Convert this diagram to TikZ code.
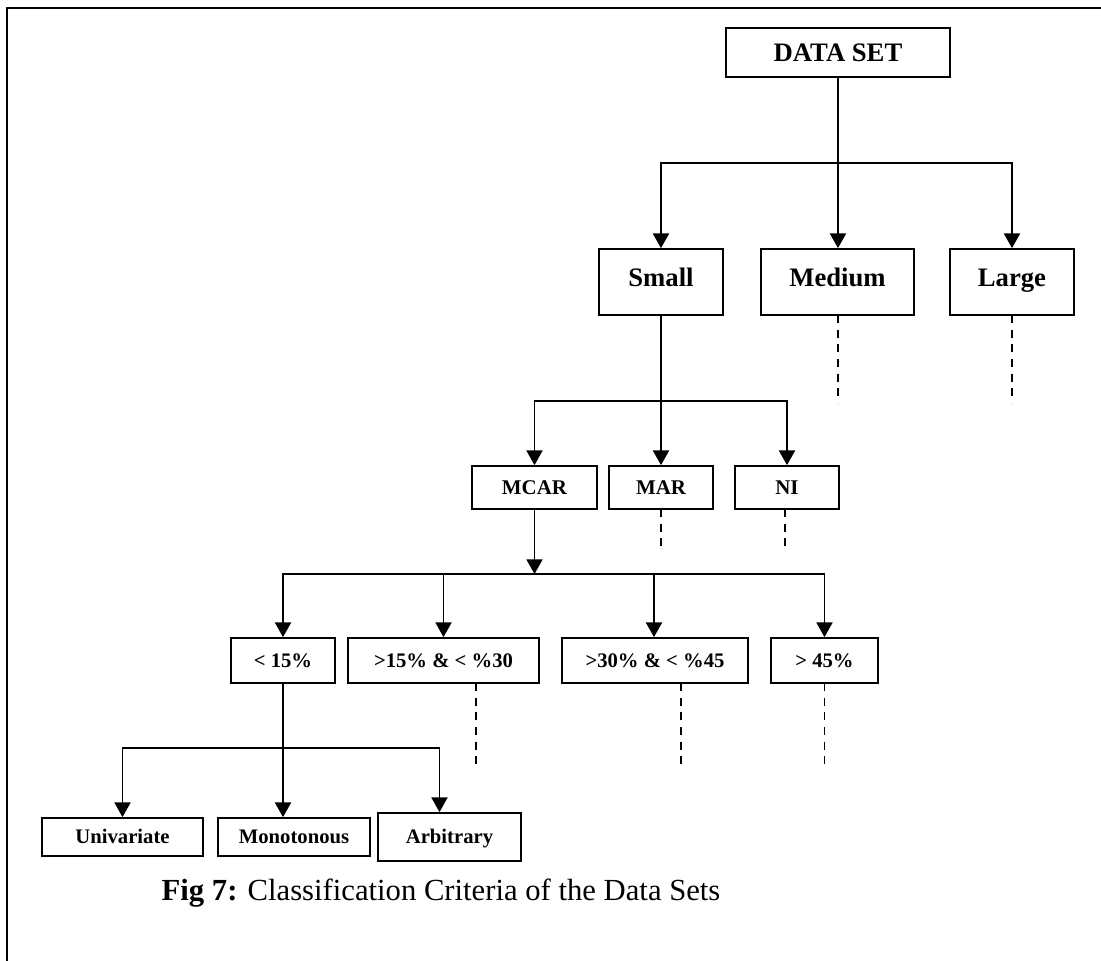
\documentclass[tikz,border=0pt]{standalone}
\usepackage{fontspec}
\setmainfont{Liberation Serif}
\usetikzlibrary{arrows.meta}

\tikzset{
  box/.style={draw, line width=1.3pt, inner sep=0pt, font=\bfseries},
  conn/.style={line width=1.3pt},
  arr/.style={line width=1.3pt, -{Triangle[width=12pt,length=11pt]}},
  dsh/.style={line width=1.1pt, dash pattern=on 6pt off 5pt},
  lvA/.style={font=\fontsize{20}{24}\selectfont\bfseries, text height=13.2pt, text depth=0pt},
  lvB/.style={font=\fontsize{15.7}{19}\selectfont\bfseries, text height=10.4pt, text depth=0pt},
  lvC/.style={font=\fontsize{15.5}{19}\selectfont\bfseries, text height=10.2pt, text depth=0pt},
  lvD/.style={font=\fontsize{15.5}{19}\selectfont\bfseries, text height=10.2pt, text depth=0pt},
}

\begin{document}
\begin{tikzpicture}[x=0.75pt,y=-0.75pt]
\useasboundingbox (0,0) rectangle (1101,961);

% page frame (top and left rules)
\coordinate (fa) at (1101,8);
\coordinate (fb) at (7,8);
\coordinate (fc) at (7,961);
\draw[line width=1.6pt] (fa) -- (fb) -- (fc);

% level 1
\node[box,lvA,minimum width=224*0.75pt,minimum height=49*0.75pt] (ds) at (838,52.5) {DATA SET};

% level 2
\node[box,lvA,text depth=7pt,minimum width=124*0.75pt,minimum height=66*0.75pt] (small) at (661,282) {Small};
\node[box,lvA,text depth=7pt,minimum width=153*0.75pt,minimum height=66*0.75pt] (medium) at (837.5,282) {Medium};
\node[box,lvA,text depth=7pt,minimum width=124*0.75pt,minimum height=66*0.75pt] (large) at (1012,282) {Large};

% level 3
\node[box,lvB,minimum width=125*0.75pt,minimum height=43*0.75pt] (mcar) at (534.5,487.5) {MCAR};
\node[box,lvB,minimum width=104*0.75pt,minimum height=43*0.75pt] (mar) at (661,487.5) {MAR};
\node[box,lvB,minimum width=104*0.75pt,minimum height=43*0.75pt] (ni) at (787,487.5) {NI};

% level 4
\node[box,lvC,minimum width=104*0.75pt,minimum height=45*0.75pt] (lt15) at (283,660.5) {< 15\%};
\node[box,lvC,minimum width=191*0.75pt,minimum height=45*0.75pt] (b1530) at (443.5,660.5) {>15\% \& < \%30};
\node[box,lvC,minimum width=186*0.75pt,minimum height=45*0.75pt] (b3045) at (655,660.5) {>30\% \& < \%45};
\node[box,lvC,minimum width=107*0.75pt,minimum height=45*0.75pt] (gt45) at (824.5,660.5) {> 45\%};

% level 5
\node[box,lvD,minimum width=161*0.75pt,minimum height=38*0.75pt] (univ) at (122.5,837) {Univariate};
\node[box,lvD,minimum width=152*0.75pt,minimum height=38*0.75pt] (mono) at (294,837) {Monotonous};
\node[box,lvD,minimum width=143*0.75pt,minimum height=48*0.75pt] (arb) at (449.5,837) {Arbitrary};

% caption
\node[font=\fontsize{23}{27}\selectfont] (cap) at (441,893) {\textbf{Fig 7:} Classification Criteria of the Data Sets};

% branch points
\coordinate (j1) at (838,163);
\coordinate (j2) at (661,401);
\coordinate (j3) at (654,574);
\coordinate (j4) at (283,748);

% data set -> sizes
\draw[conn] (ds.south) -- (j1);
\draw[arr] (j1) -| (small.north);
\draw[arr] (j1) -- (medium.north -| j1);
\draw[arr] (j1) -| (large.north);

% small -> mechanisms
\draw[conn] (small.south) -- (j2);
\draw[arr] (j2) -| (mcar.north);
\draw[arr] (j2) -- (mar.north);
\draw[arr] (j2) -| (ni.north);

% mcar -> missing rates
\coordinate (m3) at (mcar.south |- j3);
\draw[arr] (mcar.south) -- (m3);
\draw[conn] (lt15.north |- j3) -- (gt45.north |- j3);
\draw[arr] (j3) -| (lt15.north);
\draw[arr] (j3) -| (b1530.north);
\draw[arr] (j3) -- (b3045.north -| j3);
\draw[arr] (j3) -| (gt45.north);

% < 15% -> patterns
\draw[conn] (lt15.south) -- (j4);
\draw[arr] (j4) -| (univ.north);
\draw[arr] (j4) -- (mono.north -| j4);
\draw[arr] (j4) -| ([xshift=-7.5pt]arb.north);

% continuation stubs
\coordinate (medS) at (838,315);   \coordinate (medE) at (838,403);
\coordinate (lrgS) at (1012,315);  \coordinate (lrgE) at (1012,403);
\coordinate (marS) at (661,509);   \coordinate (marE) at (661,552);
\coordinate (niS) at (785,509);    \coordinate (niE) at (785,552);
\coordinate (b2S) at (476,683);    \coordinate (b2E) at (476,768);
\coordinate (b3S) at (681,683);    \coordinate (b3E) at (681,768);
\coordinate (b4S) at (824.5,683);  \coordinate (b4E) at (824.5,768);
\draw[dsh] (medS) -- (medE);
\draw[dsh] (lrgS) -- (lrgE);
\draw[dsh] (marS) -- (marE);
\draw[dsh] (niS) -- (niE);
\draw[dsh] (b2S) -- (b2E);
\draw[dsh] (b3S) -- (b3E);
\draw[dsh] (b4S) -- (b4E);
\end{tikzpicture}
\end{document}
